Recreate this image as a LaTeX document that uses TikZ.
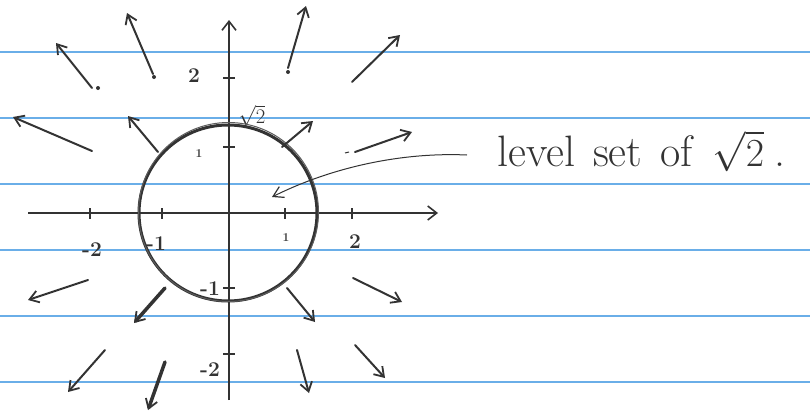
\documentclass[tikz,border=0pt]{standalone}
\usetikzlibrary{arrows.meta}
\definecolor{ink}{HTML}{333333}
\definecolor{rule}{HTML}{6AAEE8}
\tikzset{
  vec/.style={draw=ink, line width=2pt, line cap=round, -{Straight Barb[length=9pt,width=12pt,line width=1.8pt]}},
  thickvec/.style={vec, line width=3.5pt},
  axis/.style={draw=ink, line width=1.6pt, -{Straight Barb[length=9pt,width=14pt,line width=1.6pt]}},
  tick/.style={draw=ink, line width=1.4pt},
  num/.style={text=ink, font=\fontsize{21}{22}\selectfont\bfseries, inner sep=0pt},
  small/.style={text=ink, font=\fontsize{12}{13}\selectfont\bfseries, inner sep=0pt},
  ruleline/.style={draw=rule, line width=1.6pt},
  tail/.style={fill=ink, draw=none},
}
\begin{document}
\begin{tikzpicture}[x=1pt,y=-1pt]
\useasboundingbox[fill=white] (0,0) rectangle (810,415);
% ruled paper
\foreach \yy in {52,118,184,250,316,382} \draw[ruleline] (0,\yy) -- (810,\yy);
% axes
\coordinate (xs) at (28,213); \coordinate (xe) at (438,213);
\coordinate (ys) at (229,400); \coordinate (ye) at (229,20);
\draw[axis] (xs) -- (xe);
\draw[axis] (ys) -- (ye);
% ticks
\foreach \xx in {90,162,285,352} \draw[tick] (\xx,208) -- (\xx,219);
\foreach \yy in {78,147,288,354} \draw[tick] (223,\yy) -- (235,\yy);
% tick labels
\node[num] (xm2) at (92,250) {-2};
\node[num] (xm1) at (156,244) {-1};
\node[small] (x1) at (286,238) {1};
\node[num] (x2) at (355,242) {2};
\node[num] (y2) at (194,76) {2};
\node[small] (y1) at (199,154) {1};
\node[num] (ym1) at (210,289) {-1};
\node[num] (ym2) at (210,370) {-2};
\node[text=ink, font=\fontsize{20}{21}\selectfont, inner sep=0pt] (ys2) at (252,116) {$\sqrt{2}$};
% level set circle
\coordinate (O) at (228,213);
\draw[ink, line width=3pt] (O) ellipse [x radius=89, y radius=88];
\draw[ink!80, line width=1pt] (228.5,212) ellipse [x radius=90, y radius=89.5];
% vector field
\draw[vec] (92,88) -- (56,43);   \fill[tail] (98,88) circle (2pt);
\draw[vec] (153,74) -- (127,13); \fill[tail] (154,77) circle (2pt);
\draw[vec] (288,68) -- (306,6);  \fill[tail] (288,72) circle (2pt);
\draw[vec] (352,82) -- (400,35);
\draw[vec] (92,151) -- (13,117);
\draw[vec] (158,152) -- (128,116);
\draw[vec] (282,147) -- (313,121);
\draw[vec] (355,152) -- (412,132);
\draw[ink, line width=1pt] (345,153) -- (349,152);
\draw[vec] (88,280) -- (28,300);
\draw[thickvec] (165,288) -- (134,323);
\draw[vec] (287,288) -- (315,322);
\draw[vec] (353,278) -- (402,302);
\draw[vec] (105,350) -- (68,392);
\draw[thickvec] (165,362) -- (148,410);
\draw[vec] (297,350) -- (309,393);
\draw[vec] (355,345) -- (385,378);
% label and leader
\node[anchor=base west, text=ink, inner sep=0pt, font=\fontsize{44}{46}\selectfont] (lbl) at (497,166) {level\hspace{18pt}set\hspace{18pt}of\hspace{20pt}\scalebox{1.6}{$\sqrt{2}$}\hspace{10pt}.};
\coordinate (lead) at (467,155);
\coordinate (tip) at (272,197);
\draw[ink, line width=1pt, -{Straight Barb[length=10pt,width=12pt,line width=1.2pt]}] (lead) .. controls (400,152) and (330,168) .. (tip);
\end{tikzpicture}
\end{document}
